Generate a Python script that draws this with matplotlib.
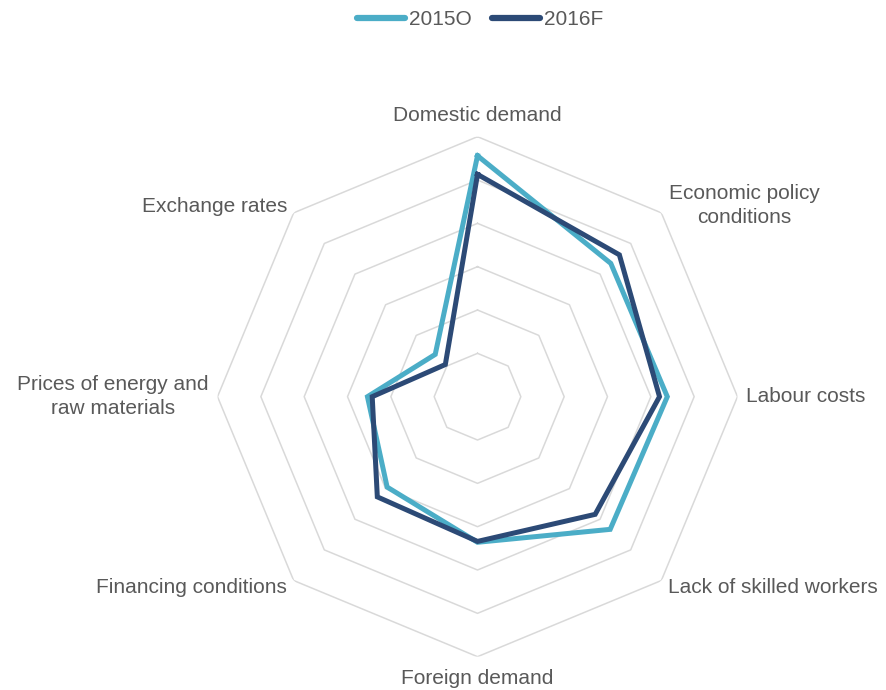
import numpy as np
import matplotlib
matplotlib.use("Agg")
import matplotlib.pyplot as plt

plt.rcParams["font.family"] = ["Liberation Sans", "DejaVu Sans"]

categories = [
    "Domestic demand",
    "Economic policy\nconditions",
    "Labour costs",
    "Lack of skilled workers",
    "Foreign demand",
    "Financing conditions",
    "Prices of energy and\nraw materials",
    "Exchange rates",
]
series_2015 = [5.56, 4.35, 4.38, 4.33, 3.36, 2.95, 2.54, 1.38]
series_2016 = [5.13, 4.63, 4.20, 3.84, 3.34, 3.27, 2.43, 1.05]
ring_levels = [1, 2, 3, 4, 5, 6]

light = "#4BADC7"
dark = "#2C4A76"
grid_col = "#d9d9d9"
text_col = "#595959"

n = len(categories)
angles = np.arange(n) * 2 * np.pi / n

fig = plt.figure(figsize=(8.86, 6.9), dpi=100)
ax = fig.add_axes([0.2455, 0.0483, 0.5869, 0.7536], projection="polar")
ax.set_theta_zero_location("N")
ax.set_theta_direction(-1)
ax.set_ylim(0, 6)
ax.grid(False)
ax.set_xticks([])
ax.set_yticks([])
ax.spines["polar"].set_visible(False)

closed = np.append(angles, angles[0])
for lvl in ring_levels:
    ax.plot(closed, [lvl] * (n + 1), color=grid_col, lw=1.1, zorder=1)

for vals, col, name in [(series_2015, light, "2015O"), (series_2016, dark, "2016F")]:
    ax.plot(closed, list(vals) + [vals[0]], color=col, lw=3.6,
            solid_joinstyle="miter", label=name, zorder=3)

# category labels around the outer ring
label_cfg = [
    (6.48, "center", "center"),
    (6.24, "left", "center"),
    (6.2, "left", "center"),
    (6.22, "left", "center"),
    (6.5, "center", "center"),
    (6.22, "right", "center"),
    (6.2, "right", "center"),
    (6.22, "right", "center"),
]
for ang, lab, (r, ha, va) in zip(angles, categories, label_cfg):
    ax.text(ang, r, lab, ha=ha, va=va, multialignment="center",
            fontsize=15, color=text_col, linespacing=1.3, clip_on=False)

leg = fig.legend(loc="upper center", bbox_to_anchor=(0.542, 1.012), ncol=2,
                 frameon=False, fontsize=15, handlelength=2.3,
                 handletextpad=0.2, columnspacing=1.0)
for t in leg.get_texts():
    t.set_color(text_col)
for h in leg.get_lines():
    h.set_solid_capstyle("round")
    h.set_linewidth(4.5)

fig.savefig("out.png", dpi=100, facecolor="white")
